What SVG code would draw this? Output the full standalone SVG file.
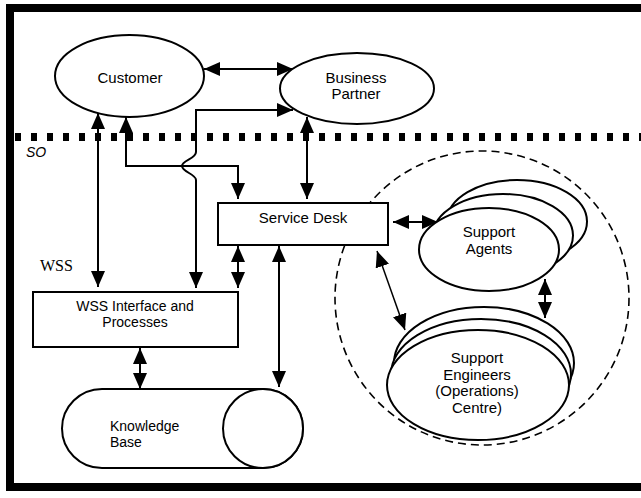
<svg xmlns="http://www.w3.org/2000/svg" width="641" height="498" viewBox="0 0 641 498">
<style>
.t{font-family:"Liberation Sans",Arial,sans-serif;font-size:15px;fill:#000;text-anchor:middle}
.n{font-size:14px}
.s{fill:#fff;stroke:#000;stroke-width:2}
.c{fill:none;stroke:#000;stroke-width:2}
</style>
<defs>
<marker id="a" markerUnits="userSpaceOnUse" markerWidth="16" markerHeight="14" refX="16" refY="7" orient="auto-start-reverse" viewBox="0 0 16 14">
<path d="M0,0 L16,7 L0,14 Z" fill="#000"/>
</marker>
</defs>
<rect x="0" y="0" width="641" height="498" fill="#fff"/>
<rect x="10" y="8" width="640" height="479" fill="none" stroke="#000" stroke-width="8"/>
<line x1="15" y1="137" x2="641" y2="137" stroke="#000" stroke-width="8" stroke-dasharray="6 10"/>
<text x="26" y="157" class="t" style="text-anchor:start;font-style:italic;font-size:14px">SO</text>
<text x="40" y="271" style="font-family:'Liberation Serif','Times New Roman',serif;font-size:16px">WSS</text>
<ellipse cx="482" cy="298" rx="147" ry="147" fill="none" stroke="#000" stroke-width="1.6" stroke-dasharray="8 5"/>
<g id="connectors">
<path class="c" d="M204,69 H293" marker-start="url(#a)" marker-end="url(#a)"/>
<path class="c" d="M98,113 V287" marker-start="url(#a)" marker-end="url(#a)"/>
<path class="c" d="M126,117 V166 H238 V199" marker-start="url(#a)" marker-end="url(#a)"/>
<path class="c" d="M293,110 H196 V152 C196,159 182,160 182,166 C182,172 196,174 196,180 V288" marker-start="url(#a)" marker-end="url(#a)"/>
<path class="c" d="M307,117 V199" marker-start="url(#a)" marker-end="url(#a)"/>
<path class="c" d="M238,246 V288" marker-start="url(#a)" marker-end="url(#a)"/>
<path class="c" d="M279,246 V387" marker-start="url(#a)" marker-end="url(#a)"/>
<path class="c" d="M140,348 V389" marker-start="url(#a)" marker-end="url(#a)"/>
<path class="c" d="M393,222 H438" marker-start="url(#a)" marker-end="url(#a)"/>
<path class="c" d="M377,251 L405,330" style="stroke-width:1.5" marker-start="url(#a)" marker-end="url(#a)"/>
<path class="c" d="M545,279 V318" marker-start="url(#a)" marker-end="url(#a)"/>
</g>
<g id="customer">
<ellipse class="s" cx="129.5" cy="76" rx="74.5" ry="41"/>
<text class="t" x="130" y="83">Customer</text>
</g>
<g id="business-partner">
<ellipse class="s" cx="357" cy="88.5" rx="77" ry="35.5"/>
<text class="t" x="356" y="83">Business</text>
<text class="t" x="356" y="99">Partner</text>
</g>
<g id="service-desk">
<rect class="s" x="218" y="203" width="170" height="42"/>
<text class="t" x="303" y="223">Service Desk</text>
</g>
<g id="wss-interface">
<rect class="s" x="33" y="292" width="205" height="55"/>
<text class="t n" x="135" y="311">WSS Interface and</text>
<text class="t n" x="135" y="327">Processes</text>
</g>
<g id="knowledge-base">
<path class="s" d="M102,389 H263 A40,39.5 0 0 1 263,468 H102 A40,39.5 0 0 1 102,389 Z"/>
<ellipse class="s" cx="263" cy="428.5" rx="40" ry="39.5"/>
<text class="t n" x="110" y="431" style="text-anchor:start">Knowledge</text>
<text class="t n" x="110" y="447" style="text-anchor:start">Base</text>
</g>
<g id="support-agents">
<ellipse class="s" cx="517" cy="221.5" rx="70" ry="41.5"/>
<ellipse class="s" cx="503" cy="235.5" rx="70" ry="41.5"/>
<ellipse class="s" cx="489" cy="249.5" rx="70" ry="41.5"/>
<text class="t" x="489" y="237">Support</text>
<text class="t" x="489" y="254">Agents</text>
</g>
<g id="support-engineers">
<ellipse class="s" cx="484" cy="363" rx="90" ry="56"/>
<ellipse class="s" cx="481" cy="374" rx="90" ry="55"/>
<ellipse class="s" cx="478" cy="385" rx="91" ry="55"/>
<text class="t" x="477" y="363">Support</text>
<text class="t" x="477" y="379.5">Engineers</text>
<text class="t" x="477" y="396">(Operations)</text>
<text class="t" x="477" y="412.5">Centre)</text>
</g>
</svg>
